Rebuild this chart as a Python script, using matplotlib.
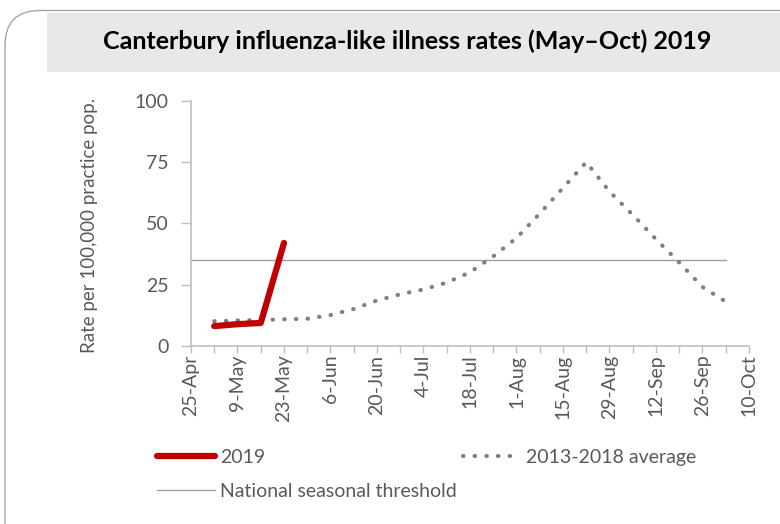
import datetime as dt

import matplotlib
matplotlib.use("Agg")
import matplotlib.pyplot as plt
from matplotlib.patches import FancyBboxPatch, Rectangle

plt.rcParams['font.family'] = ['Lato', 'DejaVu Sans']

# weekly dates (2019)
start = dt.date(2019, 4, 25)
avg_dates = [start + dt.timedelta(days=7 * k) for k in range(1, 24)]  # 2-May .. 3-Oct
avg_values = [10, 10.3, 10.5, 10.8, 11, 12.5, 15, 18.5, 21, 23, 25.8, 30,
              36.5, 44, 54, 64.5, 75, 63, 53.5, 43.5, 34, 24, 18]

y2019_dates = avg_dates[:4]
y2019_values = [8, 8.8, 9.3, 42]

threshold_dates = [start, avg_dates[-1]]
threshold_values = [35, 35]

tick_dates = [start + dt.timedelta(days=14 * k) for k in range(13)]
tick_labels = [f"{d.day}-{d.strftime('%b')}" for d in tick_dates]
minor_dates = [start + dt.timedelta(days=7 * k) for k in range(25)]

title = "Canterbury influenza-like illness rates (May\u2013Oct) 2019"
txt = "#595959"
axis_col = "#bfbfbf"
fs = 14

fig = plt.figure(figsize=(7.8, 5.24), dpi=100)

# outer rounded frame and title band
fig.patches.append(FancyBboxPatch((5 / 780, -0.1), 1.2, 1.08,
                                  boxstyle="round,pad=0,rounding_size=0.045",
                                  transform=fig.transFigure, fc="none",
                                  ec="#a6a6a6", lw=1.0, mutation_aspect=780 / 524,
                                  zorder=-1))
fig.patches.append(Rectangle((47 / 780, 1 - 72 / 524), 1, 59 / 524,
                             transform=fig.transFigure, fc="#e8e8e8", ec="none",
                             zorder=-1))
fig.text(407 / 780, 1 - 41 / 524, title, ha="center", va="center",
         fontsize=18, fontweight="bold", color="black")

ax = fig.add_axes([191 / 780, 1 - 345.7 / 524, 558 / 780, 244.7 / 524])
ax.patch.set_alpha(0)

ax.plot(threshold_dates, threshold_values, color="#a0a0a0", lw=1.0,
        label="National seasonal threshold")
ax.plot(avg_dates, avg_values, color="#7f7f7f", lw=3.0,
        linestyle=(0, (0.1, 2.7)), dash_capstyle="round",
        label="2013-2018 average")
ax.plot(y2019_dates, y2019_values, color="#c00000", lw=4.5,
        solid_capstyle="round", label="2019")

ax.set_xlim(start, tick_dates[-1])
ax.set_ylim(0, 100)
ax.set_yticks([0, 25, 50, 75, 100])
ax.set_xticks(tick_dates)
ax.set_xticklabels(tick_labels, rotation=90)
ax.set_xticks(minor_dates, minor=True)

for s in ["top", "right"]:
    ax.spines[s].set_visible(False)
for s in ["left", "bottom"]:
    ax.spines[s].set_color(axis_col)
    ax.spines[s].set_linewidth(1.2)

ax.tick_params(axis="both", which="both", colors=axis_col, labelcolor=txt,
               labelsize=fs, length=5, width=1)
ax.tick_params(axis="x", pad=1.5)
ax.tick_params(axis="y", length=7, pad=9)
ax.set_ylabel("Rate per 100,000 practice pop.", fontsize=13.5, color=txt)
ax.yaxis.set_label_coords(-0.166, 0.49)

h, l = ax.get_legend_handles_labels()
leg_kw = dict(loc="upper left", frameon=False, fontsize=fs, labelcolor=txt,
              handlelength=3.0, handletextpad=0.25, labelspacing=0.85,
              borderpad=0, borderaxespad=0)
leg1 = fig.legend([h[2], h[0]], [l[2], l[0]],
                  bbox_to_anchor=(157 / 780, 1 - 449 / 524), **leg_kw)
fig.legend([h[1]], [l[1]], bbox_to_anchor=(463 / 780, 1 - 449 / 524), **leg_kw)

fig.savefig("out.png", dpi=100)
